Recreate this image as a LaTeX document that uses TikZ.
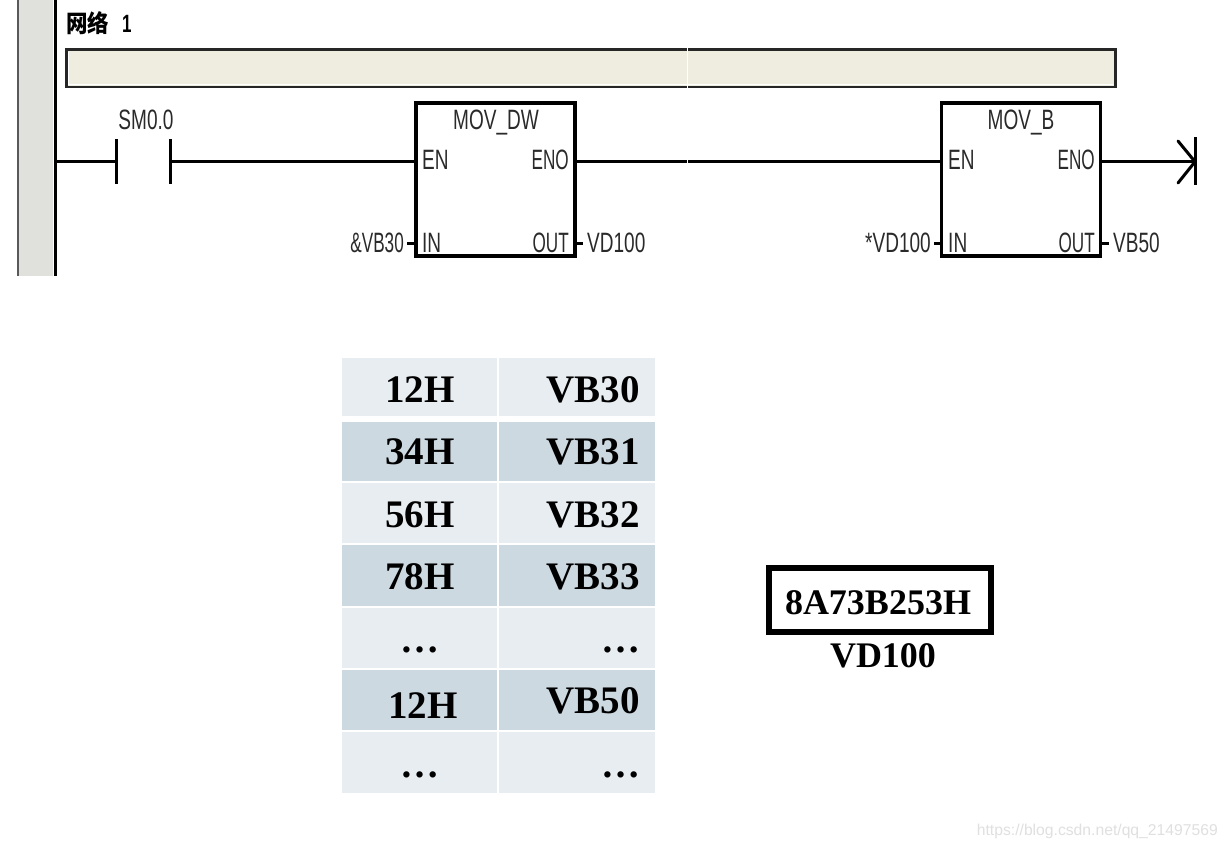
\documentclass[tikz,border=0pt]{standalone}
\usepackage{fontspec}
\setmainfont{Liberation Serif}
\newfontfamily\plcfont[FakeStretch=0.68]{Liberation Sans}
\newfontfamily\wmfont{Liberation Sans}
\newfontfamily\cjkfont{Noto Sans CJK SC}
\definecolor{cellA}{HTML}{E8EDF1}
\definecolor{cellB}{HTML}{CDD9E0}
\definecolor{barfill}{HTML}{EFEDE0}
\definecolor{stripfill}{HTML}{E0E0DC}
\definecolor{plctext}{HTML}{2A2A2A}
\tikzset{
  x=1pt,y=-1pt,
  rung/.style={line width=3pt,black},
  plcbox/.style={draw=black,line width=3.8pt,fill=white,minimum width=159pt,minimum height=153pt,inner sep=0pt},
  plc/.style={inner sep=0pt,text=plctext,font=\plcfont\fontsize{28}{28}\selectfont,anchor=base},
  plcl/.style={plc,anchor=base west},
  plcr/.style={plc,anchor=base east},
  tabtext/.style={inner sep=0pt,font=\bfseries\fontsize{39}{39}\selectfont,text=black},
}
\newcommand{\cell}[6]{% name x0 y0 x1 y1 colour
  \path[fill=#6] (#2,#3) rectangle (#4,#5) coordinate (#1);
}
\newcommand{\nar}[1]{\scalebox{0.9}[1]{#1}}
\begin{document}
\begin{tikzpicture}
\useasboundingbox (0,0) rectangle (1227,848);
\fill[white] (0,0) rectangle (1227,848);
% left strip and power rail
\fill[stripfill] (19,0) rectangle (53,276);
\draw[line width=1.6pt,black!65] (18,0) -- (18,276);
\coordinate (railT) at (55,0);
\coordinate (railB) at (55,276);
\draw[line width=3pt] (railT) -- (railB);
% title and comment bar
\node[inner sep=0pt,anchor=base west,text=black] (title) at (66,33) {\cjkfont\bfseries\fontsize{21.5}{21.5}\selectfont \scalebox{1}[1.12]{网络}\hspace{13pt}{\plcfont\bfseries\fontsize{25}{25}\selectfont 1}};
\node[draw=black!85,line width=2.4pt,outer sep=0pt,fill=barfill,anchor=north west,minimum width=1049pt,minimum height=37.5pt,inner sep=0pt] (bar) at (66.5,49.5) {};
\draw[white,line width=1.2pt] ([shift={(2.2pt,2.2pt)}]bar.south west) -- ([shift={(2.2pt,-3pt)}]bar.north west);
\draw[white,line width=1.2pt] ([shift={(2.2pt,2.2pt)}]bar.south west) -- ([shift={(-2.2pt,2.2pt)}]bar.south east);
% function boxes
\node[plcbox] (b1) at (495.5,179.5) {};
\node[plcbox] (b2) at (1021,179.5) {};
\coordinate (c1L) at (116,161.7);
\coordinate (c1R) at (170,161.7);
\coordinate (railM) at (55,161.7);
\coordinate (coil) at (1195,161.7);
% rung
\draw[rung] (railM) -- (c1L);
\draw[rung] (c1R) -- (b1.west |- c1R);
\draw[rung] (b1.east |- c1R) -- (b2.west |- c1R);
\draw[rung] (b2.east |- c1R) -- (coil);
% contact
\draw[rung] ([yshift=22.5pt]c1L) -- ([yshift=-22.5pt]c1L);
\draw[rung] ([yshift=22.5pt]c1R) -- ([yshift=-22.5pt]c1R);
\node[plc] (sm) at (146,130) {SM0.0};
% coil
\draw[rung] ([yshift=24.5pt]coil) -- ([yshift=-23.5pt]coil);
\draw[rung,line cap=round] (1178,141) -- (coil) -- (1178,183);
% box 1 texts
\node[plc] (t1) at (496,129.5) {MOV\_DW};
\node[plcl] (en1) at (422,170) {EN};
\node[plcr] (eno1) at (569,170) {\nar{ENO}};
\node[plcl] (in1) at (422,252) {IN};
\node[plcr] (out1) at (569,252) {\nar{OUT}};
\node[plcr] (a1) at (404,252) {\nar{\&VB30}};
\node[plcl] (v1) at (587,252) {VD100};
\draw[rung,shorten <=3pt] (a1.east |- 0,243) -- (b1.west |- 0,243);
\draw[rung,shorten >=4pt] (b1.east |- 0,243) -- (v1.west |- 0,243);
% box 2 texts
\node[plc] (t2) at (1021,130) {MOV\_B};
\node[plcl] (en2) at (948,170) {EN};
\node[plcr] (eno2) at (1095,170) {\nar{ENO}};
\node[plcl] (in2) at (948,252) {IN};
\node[plcr] (out2) at (1095,252) {\nar{OUT}};
\node[plcr] (a2) at (931,252) {*VD100};
\node[plcl] (v2) at (1113,252) {VB50};
\draw[rung,shorten <=3pt] (a2.east |- 0,243) -- (b2.west |- 0,243);
\draw[rung,shorten >=4pt] (b2.east |- 0,243) -- (v2.west |- 0,243);
% image seam
\draw[white,line width=1pt] (687.5,47) -- (687.5,89);
\draw[white,line width=1pt] (687.5,158) -- (687.5,165);
% table
\cell{r1a}{342}{358}{497}{416}{cellA}\cell{r1b}{499}{358}{655}{416}{cellA}
\cell{r2a}{342}{422}{497}{481}{cellB}\cell{r2b}{499}{422}{655}{481}{cellB}
\cell{r3a}{342}{483}{497}{543}{cellA}\cell{r3b}{499}{483}{655}{543}{cellA}
\cell{r4a}{342}{545}{497}{606}{cellB}\cell{r4b}{499}{545}{655}{606}{cellB}
\cell{r5a}{342}{608}{497}{668}{cellA}\cell{r5b}{499}{608}{655}{668}{cellA}
\cell{r6a}{342}{670}{497}{730}{cellB}\cell{r6b}{499}{670}{655}{730}{cellB}
\cell{r7a}{342}{732}{497}{793}{cellA}\cell{r7b}{499}{732}{655}{793}{cellA}
\node[tabtext,anchor=base] (h1) at (420,402) {12H};
\node[tabtext,anchor=base east] (v30) at (640,402) {VB30};
\node[tabtext,anchor=base] (h2) at (420,464) {34H};
\node[tabtext,anchor=base east] (v31) at (640,464) {VB31};
\node[tabtext,anchor=base] (h3) at (420,527) {56H};
\node[tabtext,anchor=base east] (v32) at (640,527) {VB32};
\node[tabtext,anchor=base] (h4) at (420,589) {78H};
\node[tabtext,anchor=base east] (v33) at (640,589) {VB33};
\node[tabtext,anchor=base] (d1) at (420,652) {…};
\node[tabtext,anchor=base east] (d2) at (641,652) {…};
\node[tabtext,anchor=base] (h5) at (423,718) {12H};
\node[tabtext,anchor=base east] (v50) at (640,713) {VB50};
\node[tabtext,anchor=base] (d3) at (420,777) {…};
\node[tabtext,anchor=base east] (d4) at (641,777) {…};
% VD100 box
\node[draw=black,line width=6pt,minimum width=222pt,minimum height=64pt,inner sep=0pt] (vdbox) at (880,600) {};
\node[inner sep=0pt,anchor=base,font=\bfseries\fontsize{36}{36}\selectfont] (vdval) at (878,614) {8A73B253H};
\node[inner sep=0pt,anchor=base,font=\bfseries\fontsize{36}{36}\selectfont] (vdname) at (883,667) {VD100};
% watermark
\node[inner sep=0pt,anchor=base east,text=black!12,font=\wmfont\fontsize{15.7}{15.7}\selectfont] (wm) at (1218,835) {https://blog.csdn.net/qq\_21497569};
\end{tikzpicture}
\end{document}
